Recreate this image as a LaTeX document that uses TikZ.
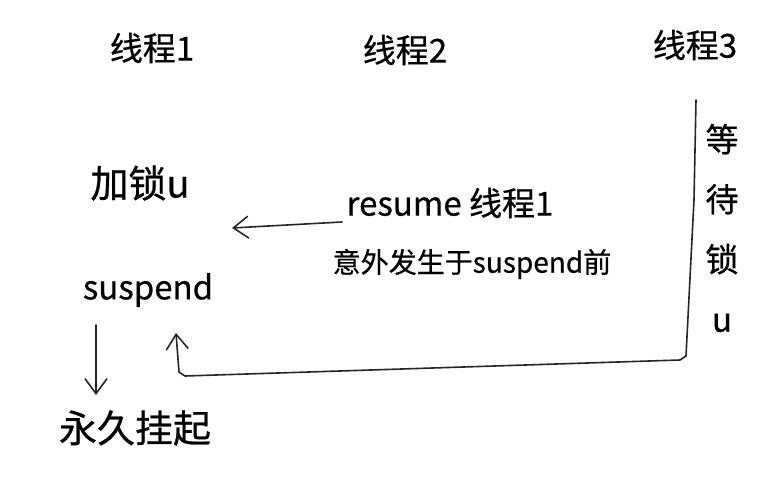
\documentclass[tikz,border=0pt]{standalone}
\usepackage{fontspec}
\setmainfont[FakeBold=0.6]{Noto Sans CJK SC}
\usetikzlibrary{arrows.meta}
\begin{document}
\begin{tikzpicture}[x=1pt,y=-1pt,
  big/.style={font=\fontsize{38}{44}\selectfont, inner sep=1pt},
  mid/.style={font=\fontsize{33}{38}\selectfont, inner sep=1pt},
  small/.style={font=\fontsize{28}{32}\selectfont, inner sep=1pt},
  ink/.style={line width=1.6pt, black!85, line cap=round, line join=round},
  tip/.style={-{Straight Barb[length=15pt,width=22pt,line width=1.6pt]}}]
\useasboundingbox (0,0) rectangle (773,481);
% thread headers
\node[mid] (t1) at (152,48) {线程1};
\node[mid] (t2) at (405,50) {线程2};
\node[mid] (t3) at (695,45) {线程3};
% thread 1 actions
\node[big] (lock) at (140,183) {加锁u};
\node[mid] (susp) at (148,290) {suspend};
\node[big] (hang) at (135,428) {永久挂起};
% thread 2 actions
\node[mid] (resume) at (450,203) {resume 线程1};
\node[small] (note) at (472,264) {意外发生于suspend前};
% thread 3 waiting label, written vertically
\node[mid, align=center, font=\fontsize{33}{60}\selectfont] (wait) at (722,228) {等\\待\\锁\\u};
% connectors
\coordinate (r0) at (342,222);
\coordinate (r1) at (232,228);
\draw[ink,tip] (r0) -- (r1);
\coordinate (d0) at (96,325);
\coordinate (d1) at (96,395);
\draw[ink,tip] (d0) -- (d1);
\coordinate (w0) at (696,100);
\coordinate (w1) at (686,356);
\coordinate (w2) at (185,376);
\coordinate (w3) at (176,333);
\draw[ink,tip] (w0) -- (694,200) -- (w1) -- (680,360) -- (w2) -- (179,372) -- (w3);
\end{tikzpicture}
\end{document}
